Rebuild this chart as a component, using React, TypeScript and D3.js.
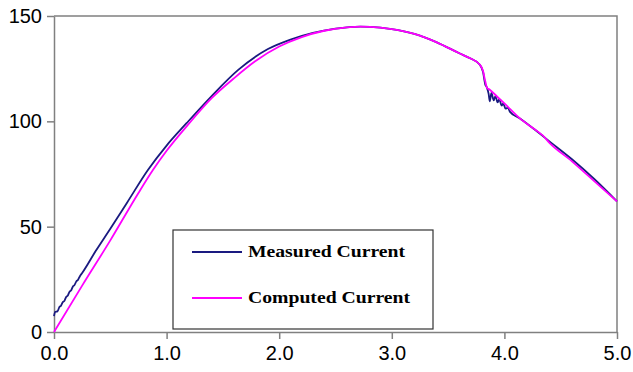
import React, { useEffect, useRef } from 'react';
import * as d3 from 'd3';

// time (x) / current (y)
const computedX = [0, 0.25, 0.5, 0.75, 0.88, 1.0, 1.2, 1.4, 1.6, 1.8, 2.0, 2.2, 2.4, 2.6, 2.72, 2.9, 3.0, 3.2, 3.4, 3.6, 3.7, 3.78, 3.81, 3.83, 3.845, 3.87, 3.95, 4.0, 4.135, 4.3, 4.34, 4.4, 4.6, 4.8, 5.0];
const computedY = [0, 22, 43.5, 66, 77, 86, 99, 111, 120.5, 129, 135.5, 140, 143, 144.6, 145, 144.5, 143.8, 141.5, 137.5, 132.3, 129.8, 127, 124, 119, 116, 115, 111, 108.5, 101.5, 95, 93.3, 89.8, 81, 71.5, 62];

const measuredX = [0, 0.01, 0.03, 0.05, 0.06, 0.08, 0.09, 0.11, 0.12, 0.14, 0.15, 0.17, 0.18, 0.2, 0.21, 0.23, 0.25, 0.37, 0.5, 0.65, 0.834, 1.0, 1.177, 1.4, 1.636, 1.9, 2.1, 2.3, 2.5, 2.72, 2.9, 3.0, 3.2, 3.4, 3.6, 3.7, 3.78, 3.81, 3.83, 3.845, 3.86, 3.87, 3.885, 3.905, 3.92, 3.94, 3.955, 3.975, 3.99, 4.01, 4.03, 4.05, 4.135, 4.3, 4.4, 4.6, 4.8, 5.0];
const measuredY = [7.5, 9.5, 9.8, 12, 12.3, 14.3, 14.6, 16.8, 17.1, 19.3, 19.6, 21.8, 22.1, 24.2, 24.5, 26.5, 28, 38.4, 49, 61.5, 76.9, 88.5, 99.1, 112, 124.4, 134.3, 138.8, 142, 144, 145, 144.5, 143.8, 141.5, 137.5, 132.3, 129.8, 127, 123.5, 117.5, 116, 113, 109.5, 113.5, 110, 112, 109, 110.5, 107.5, 108.5, 106, 106.5, 104.5, 101.5, 94.8, 90.5, 82, 72.5, 62];

const xTicks = [0, 1, 2, 3, 4, 5];
const yTicks = [0, 50, 100, 150];
const seriesNames = ['Measured Current', 'Computed Current'];
const seriesColors = ['#1a1a80', '#ff00ff'];

export default function App() {
    const node = useRef<SVGSVGElement>(null);

    useEffect(() => {
        const svg = d3.select(node.current);
        svg.selectAll('*').remove();

        const x = d3.scaleLinear().domain([0, 5]).range([54, 617]);
        const y = d3.scaleLinear().domain([0, 150]).range([332, 16]);
        const axisColor = '#808080';

        // plot frame: top and right borders
        svg.append('path')
            .attr('d', `M${x(0)},${y(150)}H${x(5)}V${y(0)}`)
            .attr('fill', 'none')
            .attr('stroke', axisColor)
            .attr('stroke-width', 1.5);

        const xAxis = svg.append('g')
            .attr('transform', `translate(0,${y(0)})`)
            .call(d3.axisBottom(x).tickValues(xTicks).tickFormat(d3.format('.1f')).tickSize(7).tickSizeOuter(0));
        const yAxis = svg.append('g')
            .attr('transform', `translate(${x(0)},0)`)
            .call(d3.axisLeft(y).tickValues(yTicks).tickFormat(d3.format('d')).tickSize(7).tickSizeOuter(0));

        [xAxis, yAxis].forEach(g => {
            g.select('.domain').attr('stroke', axisColor).attr('stroke-width', 1.5);
            g.selectAll('.tick line').attr('stroke', axisColor).attr('stroke-width', 1.5);
            g.selectAll('.tick text')
                .attr('fill', '#000')
                .style('font-family', '"Liberation Sans", Arial, sans-serif')
                .style('font-size', '20px');
        });
        xAxis.selectAll('.tick text').attr('y', 14);
        yAxis.selectAll('.tick text').attr('x', -12);

        const line = d3.line<[number, number]>()
            .x(d => x(d[0]))
            .y(d => y(d[1]))
            .curve(d3.curveMonotoneX);

        const measured = measuredX.map((v, i) => [v, measuredY[i]] as [number, number]);
        const computed = computedX.map((v, i) => [v, computedY[i]] as [number, number]);

        svg.append('path').datum(measured)
            .attr('d', line)
            .attr('fill', 'none')
            .attr('stroke', seriesColors[0])
            .attr('stroke-width', 1.8);
        svg.append('path').datum(computed)
            .attr('d', line)
            .attr('fill', 'none')
            .attr('stroke', seriesColors[1])
            .attr('stroke-width', 1.8);

        // legend
        const legend = svg.append('g').attr('transform', 'translate(173,230)');
        legend.append('rect')
            .attr('width', 260)
            .attr('height', 99)
            .attr('fill', '#fff')
            .attr('stroke', '#333')
            .attr('stroke-width', 1.2);
        seriesNames.forEach((name, i) => {
            const cy = 22 + i * 46;
            legend.append('line')
                .attr('x1', 19).attr('x2', 69)
                .attr('y1', cy).attr('y2', cy)
                .attr('stroke', seriesColors[i])
                .attr('stroke-width', 2);
            legend.append('text')
                .attr('x', 75)
                .attr('y', cy + 5)
                .attr('textLength', i === 0 ? 157 : 162)
                .attr('lengthAdjust', 'spacingAndGlyphs')
                .style('font-family', '"Liberation Serif", "Times New Roman", serif')
                .style('font-weight', 'bold')
                .style('font-size', '16px')
                .text(name);
        });
    }, []);

    return (
        <svg ref={node} width={633} height={372}
            style={{ position: 'absolute', left: 0, top: 0, background: '#fff' }} />
    );
}
